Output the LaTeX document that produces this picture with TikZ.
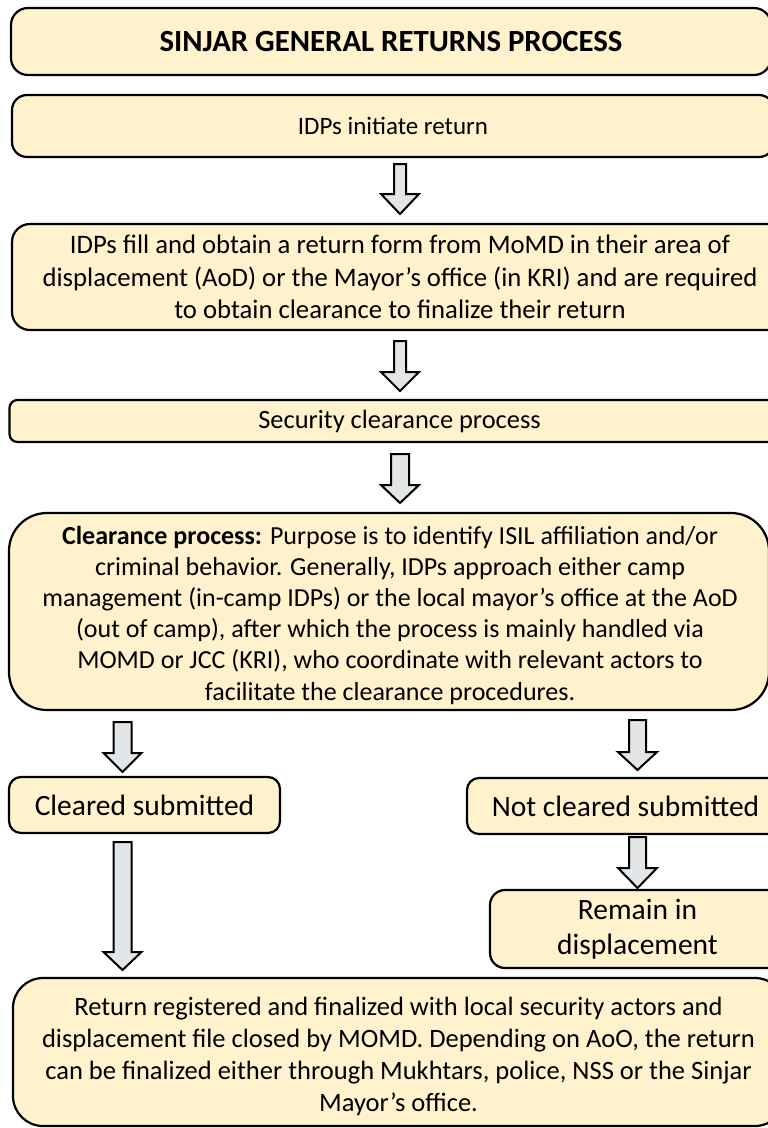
\documentclass[tikz,border=0pt]{standalone}
\usepackage{fontspec}
\setmainfont{Carlito}
\definecolor{boxfill}{HTML}{FFF2CC}
\definecolor{arrowfill}{HTML}{E3E6E8}
\tikzset{
  flowbox/.style={draw=black, line width=2.2pt, fill=boxfill, rectangle,
    align=center, inner sep=0pt, font=\fontsize{26}{32}\selectfont},
  boxtext/.style={align=center, inner sep=0pt},
  bigtext/.style={font=\fontsize{29.5}{35}\selectfont},
  blockarrow/.style={draw=black, line width=2pt, fill=arrowfill, line join=miter},
}
\newcommand\blkarrow[6]{%
  \draw[blockarrow] (#1-#5,#2) -- (#1+#5,#2) -- (#1+#5,#3) -- (#1+#6,#3)
    -- (#1,#4) -- (#1-#6,#3) -- (#1-#5,#3) -- cycle;}
\begin{document}
\begin{tikzpicture}[x=1pt,y=-1pt]
\clip (0,0) rectangle (768,1128);
\fill[white] (0,0) rectangle (768,1128);

\node[flowbox, rounded corners=17pt, minimum width=760pt, minimum height=67pt,
  font=\fontsize{30.8}{36}\selectfont\bfseries] (title) at (391,41.5)
  {SINJAR GENERAL RETURNS PROCESS};

\node[flowbox, rounded corners=15pt, minimum width=762pt, minimum height=62pt,
  font=\fontsize{25}{30}\selectfont]
  (initiate) at (393,126) {IDPs initiate return};

\node[flowbox, rounded corners=18pt, minimum width=776pt, minimum height=106pt,
  font=\fontsize{26.7}{32.5}\selectfont]
  (form) at (400,277) {IDPs fill and obtain a return form from MoMD in their area of\\
  displacement (AoD) or the Mayor’s office (in KRI) and are required\\
  to obtain clearance to finalize their return};

\node[flowbox, rounded corners=8pt, minimum width=780pt, minimum height=42pt,
  font=\fontsize{26.4}{32}\selectfont]
  (security) at (399.5,421) {Security clearance process};

\node[flowbox, rounded corners=38pt, minimum width=760pt, minimum height=197pt]
  (clearance) at (389,611.5) {};
\node[boxtext, font=\fontsize{26}{31.2}\selectfont] (clearancetext) at (390,615)
  {\textbf{Clearance process:} Purpose is to identify ISIL affiliation and/or\\
  criminal behavior. Generally, IDPs approach either camp\\
  management (in-camp IDPs) or the local mayor’s office at the AoD\\
  (out of camp), after which the process is mainly handled via\\
  MOMD or JCC (KRI), who coordinate with relevant actors to\\
  facilitate the clearance procedures.};

\node[flowbox, bigtext, rounded corners=12pt, minimum width=271pt, minimum height=56pt]
  (cleared) at (144.5,805) {Cleared submitted};

\node[flowbox, bigtext, rounded corners=12pt, minimum width=317pt, minimum height=56pt]
  (notcleared) at (625.5,806) {Not cleared submitted};

\node[flowbox, bigtext, rounded corners=15pt, minimum width=295pt, minimum height=78pt]
  (remain) at (637.5,929) {Remain in\\ displacement};

\node[flowbox, rounded corners=30pt, minimum width=772pt, minimum height=148pt]
  (final) at (399,1052) {};
\node[boxtext, font=\fontsize{26.5}{32}\selectfont] (finaltext) at (398.5,1056)
  {Return registered and finalized with local security actors and\\
  displacement file closed by MOMD. Depending on AoO, the return\\
  can be finalized either through Mukhtars, police, NSS or the Sinjar\\
  Mayor’s office.};

\blkarrow{400}{164}{194}{214}{6}{19}
\blkarrow{400}{341}{372}{391}{6}{19}
\blkarrow{400}{454}{485}{503}{9}{19}
\blkarrow{122.5}{722}{753}{772}{9}{19}
\blkarrow{637.5}{720}{752}{770}{8.5}{19.5}
\blkarrow{637.5}{837}{868}{888}{8.5}{19.5}
\blkarrow{122.5}{842}{952}{970}{9}{19}
\end{tikzpicture}
\end{document}
